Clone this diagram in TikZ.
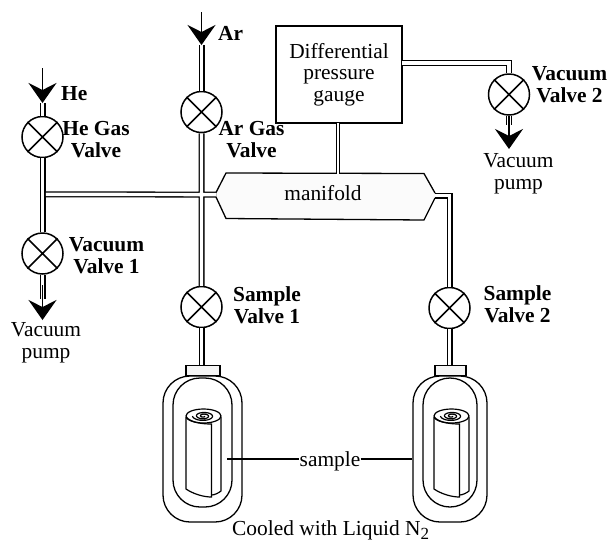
\documentclass[tikz,border=0pt]{standalone}
\usepackage{fontspec}
\setmainfont{Liberation Serif}
\usetikzlibrary{arrows.meta}
\tikzset{
  x=1pt,y=-1pt,
  valve/.style={circle,draw,line width=1.5pt,minimum size=41pt,inner sep=0pt,fill=white},
  pipe/.style={double,double distance=3.4pt,line width=1.3pt},
  thinpipe/.style={double,double distance=2.2pt,line width=1.3pt},
  lbl/.style={font=\fontsize{21.4}{21.6}\selectfont,inner sep=0pt,align=center,anchor=base},
  blbl/.style={font=\fontsize{21.4}{21.6}\selectfont\bfseries,inner sep=0pt,align=center,anchor=base},
  flow/.style={line width=1.2pt,-{Stealth[length=20pt,width=28pt,inset=7pt]}},
  wall/.style={line width=1.3pt,rounded corners=27pt,draw,inner sep=0pt},
  capbox/.style={draw,line width=1.3pt,fill=gray!8,inner sep=0pt,minimum width=34pt,minimum height=10pt},
  roll/.pic={
    \draw[line width=1.2pt] (0,0) ellipse [x radius=17.5,y radius=7];
    \draw[line width=1.2pt] plot[domain=0:900,samples=70,smooth,variable=\t]
       ({(1+\t/900*10)*cos(\t)},{(0.6+\t/900*4.2)*sin(\t)});
    \draw[line width=1.2pt] (-17.5,1) -- (-17.5,73) .. controls (-10,78) and (0,81) .. (8,81) -- (8,8)
       .. controls (0,8) and (-12,7) .. (-17.5,1);
    \draw[line width=1.2pt] (17.5,1) -- (17.5,75) .. controls (15,77) and (11,79) .. (8,79);
  }
}
\begin{document}
\begin{tikzpicture}
\useasboundingbox (0,0) rectangle (610,542);
% manifold
\coordinate (mL1) at (216,192.5); \coordinate (mTL) at (226,173); \coordinate (mTR) at (424,173.5); \coordinate (mR1) at (435,193);
\coordinate (mL2) at (216,197);   \coordinate (mBL) at (226,218.5); \coordinate (mBR) at (424,220); \coordinate (mR2) at (435,198);
\fill[gray!3] (mL1) -- (mTL) -- (mTR) -- (mR1) -- (mR2) -- (mBR) -- (mBL) -- (mL2) -- cycle;
\draw[line width=1.3pt] (mL1) -- (mTL) -- (mTR) -- (mR1);
\draw[line width=1.3pt] (mL2) -- (mBL) -- (mBR) -- (mR2);
\node[lbl] (manifold) at (323,200) {manifold};
% gauge
\node[draw,line width=1.3pt,minimum width=126pt,minimum height=97pt,inner sep=0pt,
      font=\fontsize{21.4}{21.6}\selectfont,align=center] (gauge) at (339,74.5) {Differential\\pressure\\gauge};
% valves
\node[valve] (hegas) at (42.5,137) {};
\node[valve] (argas) at (201.5,112) {};
\node[valve] (vac1)  at (42.5,253.5) {};
\node[valve] (vac2)  at (509,94.5) {};
\node[valve] (s1)    at (201.5,307) {};
\node[valve] (s2)    at (449.5,308) {};
\foreach \v in {hegas,argas,vac1,vac2,s1,s2}{
  \draw[line width=1.5pt] (\v.45) -- (\v.225) (\v.135) -- (\v.315);
}
% dewars
\node[wall,minimum width=79pt,minimum height=146pt] (dew1) at (202.5,449) {};
\node[wall,minimum width=59pt,minimum height=129pt] (in1) at (202.5,442.5) {};
\node[wall,minimum width=74pt,minimum height=146pt] (dew2) at (450,449) {};
\node[wall,minimum width=54pt,minimum height=129pt] (in2) at (450,442.5) {};
\node[capbox] (cap1) at (203,370.5) {};
\node[capbox,minimum width=31pt] (cap2) at (450.5,370.5) {};
\pic at (203.5,416) {roll};
\pic at (451.5,416) {roll};
% flow coordinates
\coordinate (heTop) at (42.5,68);  \coordinate (heTip) at (42.5,103);
\coordinate (arTop) at (201.5,12);   \coordinate (arTip) at (201.5,45);
\coordinate (v1neck) at (42.5,299); \coordinate (v1in) at (42.5,285); \coordinate (v1tip) at (42.5,320);
\coordinate (v2neck) at (509,125);  \coordinate (v2in) at (509,116);  \coordinate (v2tip) at (509,149);
\coordinate (heT) at (45.9,194.3);
\coordinate (mLend) at (216.5,194.6);
\coordinate (mRstart) at (434.5,195.5);
\coordinate (mRc) at (449.5,195.5);
\coordinate (g2) at (402,63);
\coordinate (g2c) at (509,63);
\coordinate (gS) at (338,123);
\coordinate (gM) at (338,173.5);
% pipes
\draw[pipe] (heTip) -- (hegas.north);
\draw[pipe] (arTip) -- (argas.north);
\draw[pipe] (hegas.south) -- (vac1.north);
\draw[pipe] (vac1.south) -- (v1neck);
\draw[pipe] (vac2.south) -- (v2neck);
\draw[pipe] (heT) -- (mLend) (argas.south) -- (s1.north);
\draw[pipe] (mRstart) -- (mRc) -- (s2.north);
\draw[pipe] (g2) -- (g2c) -- (vac2.north);
\draw[thinpipe] (gS) -- (gM);
\draw[pipe] (s1.south) -- (s1.south |- cap1.north);
\draw[pipe] (s2.south) -- (s2.south |- cap2.north);
% arrows
\draw[flow] (heTop) -- (heTip);
\draw[flow] (arTop) -- (arTip);
\draw[flow] (v1in) -- (v1tip);
\draw[flow] (v2in) -- (v2tip);
% labels
\node[blbl,anchor=base west] (he) at (61,100) {He};
\node[blbl,anchor=base west] (ar) at (218,40) {Ar};
\node[blbl] (hel) at (96,157) {He Gas\\Valve};
\node[blbl] (arl) at (251.5,157) {Ar Gas\\Valve};
\node[blbl] (v1l) at (106.5,273) {Vacuum\\Valve 1};
\node[blbl] (v2l) at (569.5,102) {Vacuum\\Valve 2};
\node[blbl] (s1l) at (267,323) {Sample\\Valve 1};
\node[blbl] (s2l) at (517.5,322) {Sample\\Valve 2};
\node[lbl] (p1) at (46,358) {Vacuum\\pump};
\node[lbl] (p2) at (518.5,189) {Vacuum\\pump};
\node[lbl] (sample) at (330,466) {sample};
\node[lbl,anchor=base west] (cooled) at (232,535) {Cooled with Liquid N\raisebox{-4pt}{\fontsize{17}{17}\selectfont 2}};
% sample leaders
\coordinate (sL) at (227,459);
\draw[line width=1.2pt] (sL) -- (sL -| sample.west);
\draw[line width=1.2pt] (sL -| sample.east) -- (sL -| dew2.west);
\end{tikzpicture}
\end{document}
